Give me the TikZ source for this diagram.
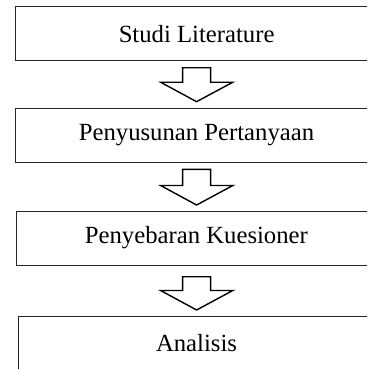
\documentclass[tikz,border=0pt]{standalone}
\usepackage{fontspec}
\setmainfont{Liberation Serif}
\begin{document}
\begin{tikzpicture}[x=1pt,y=-1pt,
  stagebox/.style={draw=black!85, line width=1pt, minimum height=54pt, inner sep=0pt,
    font=\fontsize{24.7}{28}\selectfont, text=black},
  flowarrow/.style={draw=black, line width=1.4pt, fill=white, line join=miter}]
\useasboundingbox (0,0) rectangle (367,369);
\clip (0,0) rectangle (367,369);
\node[stagebox, minimum width=362.7pt] (b1) at (196.6,33.7) {Studi Literature};
\node[stagebox, minimum width=362pt] (b2) at (196.5,135.3) {Penyusunan Pertanyaan};
\node[stagebox, minimum width=359.6pt] (b3) at (196.4,238) {Penyebaran Kuesioner};
\node[stagebox, minimum width=357pt] (b4) at (196.5,343) {Analisis};
% block arrows between boxes
\foreach \top/\tip in {67.7/101.7, 169.3/205, 276.7/310}{
  \pgfmathsetmacro{\sh}{\tip-19.5}
  \draw[flowarrow] (182.6,\top) -- (210.6,\top) -- (210.6,\sh) -- (232.8,\sh)
     -- (196.6,\tip) -- (160.6,\sh) -- (182.6,\sh) -- cycle;
}
\end{tikzpicture}
\end{document}
